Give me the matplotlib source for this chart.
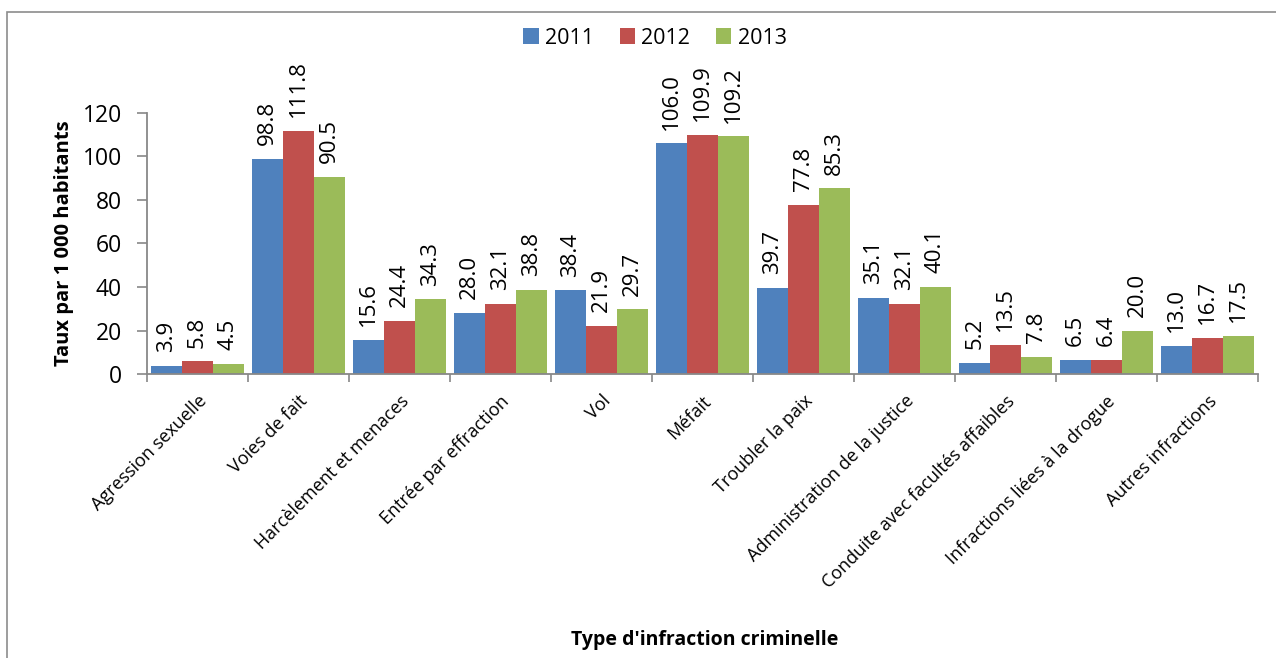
import matplotlib
matplotlib.use("Agg")
import matplotlib.pyplot as plt
import numpy as np
from matplotlib.patches import Rectangle

categories = ["Agression sexuelle", "Voies de fait", "Harcèlement et menaces",
              "Entrée par effraction", "Vol", "Méfait", "Troubler la paix",
              "Administration de la justice", "Conduite avec facultés affaibles",
              "Infractions liées à la drogue", "Autres infractions"]
years = ["2011", "2012", "2013"]
v2011 = [3.9, 98.8, 15.6, 28.0, 38.4, 106.0, 39.7, 35.1, 5.2, 6.5, 13.0]
v2012 = [5.8, 111.8, 24.4, 32.1, 21.9, 109.9, 77.8, 32.1, 13.5, 6.4, 16.7]
v2013 = [4.5, 90.5, 34.3, 38.8, 29.7, 109.2, 85.3, 40.1, 7.8, 20.0, 17.5]
colors = ["#4F81BD", "#C0504D", "#9BBB59"]

plt.rcParams['font.family'] = ['Open Sans', 'DejaVu Sans']

fig = plt.figure(figsize=(12.76, 6.58), dpi=100)
ax = fig.add_axes([0.1152, 0.4316, 0.8707, 0.3967])

# outer border
fig.patches.append(Rectangle((7/1276, -0.01), 1.2, 1 - 12/658 + 0.01, transform=fig.transFigure,
                             fill=False, edgecolor="#8c8c8c", linewidth=1.2))

x = np.arange(len(categories))
w = 0.305
series = [v2011, v2012, v2013]
for i, (vals, c, yr) in enumerate(zip(series, colors, years)):
    pos = x + (i - 1) * w
    ax.bar(pos, vals, width=w, color=c, label=yr, edgecolor="none")
    for p, v in zip(pos, vals):
        ax.annotate(f"{v:.1f}", xy=(p, v), xytext=(0, 10), textcoords="offset points",
                    rotation=90, ha="center", va="bottom", fontsize=16, annotation_clip=False)

ax.set_xlim(-0.5, len(categories) - 0.5)
ax.set_ylim(0, 120)
ax.set_yticks(range(0, 121, 20))
ax.tick_params(axis="y", labelsize=16.5, color="#888888", length=7, width=1.2,
               direction="out", pad=11)
ax.set_xticks(x)
ax.set_xticklabels(categories, rotation=45, ha="right", rotation_mode="anchor", fontsize=13)
ax.tick_params(axis="x", length=0, pad=13)
ax.set_xticks(np.arange(-0.5, len(categories), 1), minor=True)
ax.tick_params(axis="x", which="minor", length=6, width=1.2, color="#888888")
for s in ["top", "right"]:
    ax.spines[s].set_visible(False)
for s in ["left", "bottom"]:
    ax.spines[s].set_color("#888888")
    ax.spines[s].set_linewidth(1.3)

ax.set_ylabel("Taux par 1 000 habitants", fontsize=14.5, fontweight="bold", labelpad=6)
fig.text(0.552, 1 - 640/658, "Type d'infraction criminelle", ha="center", va="center",
         fontsize=14, fontweight="bold")

ax.legend(loc="center", bbox_to_anchor=(655/1276, 1 - 38/658), bbox_transform=fig.transFigure,
          ncol=3, frameon=False, fontsize=15.5, handlelength=0.7, handleheight=0.7,
          handletextpad=0.3, columnspacing=1.2)

fig.savefig("out.png", dpi=100)
